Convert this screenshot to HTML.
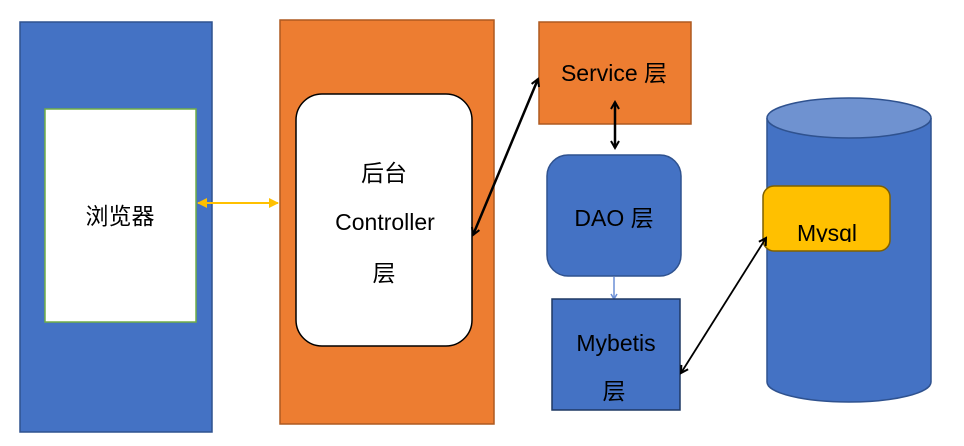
<!DOCTYPE html>
<html><head><meta charset="utf-8"><style>
body{margin:0;background:#fff;width:964px;height:441px;overflow:hidden}
svg text{font-family:"Liberation Sans","Noto Sans CJK SC",sans-serif;font-size:23px;fill:#000}
</style></head><body>
<svg width="964" height="441" viewBox="0 0 964 441" xmlns="http://www.w3.org/2000/svg">
<defs>
<marker id="ak" markerWidth="10" markerHeight="10" refX="8" refY="5" orient="auto-start-reverse" markerUnits="userSpaceOnUse"><path d="M1,1 L8,5 L1,9" fill="none" stroke="#000" stroke-width="2"/></marker>
<marker id="ay" markerWidth="12" markerHeight="10" refX="9" refY="5" orient="auto-start-reverse" markerUnits="userSpaceOnUse"><path d="M0,0 L10,5 L0,10 z" fill="#ffc000"/></marker>
<marker id="ab" markerWidth="8" markerHeight="8" refX="6" refY="4" orient="auto" markerUnits="userSpaceOnUse"><path d="M1,1 L6,4 L1,7" fill="none" stroke="#6a8fd6" stroke-width="1.5"/></marker>
<clipPath id="c"><rect x="763" y="186" width="127" height="56"/></clipPath>
</defs>
<rect x="20" y="22" width="192" height="410" fill="#4472c4" stroke="#2f528f" stroke-width="1.5"/>
<rect x="45" y="109" width="151" height="213" fill="#fff" stroke="#70ad47" stroke-width="1.5"/>
<text x="120" y="224" text-anchor="middle">浏览器</text>
<line x1="198" y1="203" x2="278" y2="203" stroke="#ffc000" stroke-width="2" marker-start="url(#ay)" marker-end="url(#ay)"/>
<rect x="280" y="20" width="214" height="404" fill="#ed7d31" stroke="#ae5a21" stroke-width="1.5"/>
<rect x="296" y="94" width="176" height="252" rx="26" fill="#fff" stroke="#000" stroke-width="1.5"/>
<text x="384" y="181" text-anchor="middle">后台</text>
<text x="385" y="230" text-anchor="middle">Controller</text>
<text x="384" y="281" text-anchor="middle">层</text>
<rect x="539" y="22" width="152" height="102" fill="#ed7d31" stroke="#ae5a21" stroke-width="1.5"/>
<text x="614" y="81" text-anchor="middle">Service 层</text>
<line x1="473" y1="235" x2="538" y2="79" stroke="#000" stroke-width="2.5" marker-start="url(#ak)" marker-end="url(#ak)"/>
<line x1="615" y1="102" x2="615" y2="148" stroke="#000" stroke-width="2.5" marker-start="url(#ak)" marker-end="url(#ak)"/>
<rect x="547" y="155" width="134" height="121" rx="21" fill="#4472c4" stroke="#2f528f" stroke-width="1.5"/>
<text x="614" y="226" text-anchor="middle">DAO 层</text>
<line x1="614" y1="277" x2="614" y2="299" stroke="#6a8fd6" stroke-width="1.5" marker-end="url(#ab)"/>
<rect x="552" y="299" width="128" height="111" fill="#4472c4" stroke="#1f3864" stroke-width="1.5"/>
<text x="616" y="351" text-anchor="middle">Mybetis</text>
<text x="614" y="399" text-anchor="middle">层</text>
<path d="M767,118 L767,382 A82,20 0 0 0 931,382 L931,118" fill="#4472c4" stroke="#2f528f" stroke-width="1.5"/>
<ellipse cx="849" cy="118" rx="82" ry="20" fill="#6f92d0" stroke="#2f528f" stroke-width="1.5"/>
<rect x="763" y="186" width="127" height="65" rx="11" fill="#ffc000" stroke="#7f6000" stroke-width="1.5"/>
<text x="827" y="241" text-anchor="middle" clip-path="url(#c)">Mysql</text>
<line x1="681" y1="373" x2="766" y2="238" stroke="#000" stroke-width="1.8" marker-start="url(#ak)" marker-end="url(#ak)"/>
</svg>
</body></html>
